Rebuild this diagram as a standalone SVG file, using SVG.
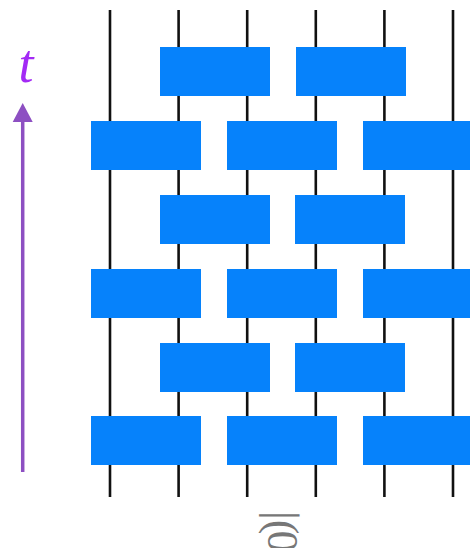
<svg xmlns="http://www.w3.org/2000/svg" width="470" height="548" viewBox="0 0 470 548">
<style>
.wire{stroke:#111;stroke-width:2.6;fill:none}
.gate{fill:#0682fb}
.axis{stroke:#8d4fc2;stroke-width:3.5}
</style>
<rect width="470" height="548" fill="#fff"/>
<g id="wires">
<line class="wire" x1="110" y1="10" x2="110" y2="497"/>
<line class="wire" x1="178.6" y1="10" x2="178.6" y2="497"/>
<line class="wire" x1="247.2" y1="10" x2="247.2" y2="497"/>
<line class="wire" x1="315.8" y1="10" x2="315.8" y2="497"/>
<line class="wire" x1="384.4" y1="10" x2="384.4" y2="497"/>
<line class="wire" x1="453" y1="10" x2="453" y2="497"/>
</g>
<g id="gates">
<rect class="gate" x="160" y="47" width="110" height="49"/>
<rect class="gate" x="296" y="47" width="110" height="49"/>
<rect class="gate" x="91" y="121" width="110" height="49"/>
<rect class="gate" x="227" y="121" width="110" height="49"/>
<rect class="gate" x="363" y="121" width="110" height="49"/>
<rect class="gate" x="160" y="195" width="110" height="49"/>
<rect class="gate" x="295" y="195" width="110" height="49"/>
<rect class="gate" x="91" y="269" width="110" height="49"/>
<rect class="gate" x="227" y="269" width="110" height="49"/>
<rect class="gate" x="363" y="269" width="110" height="49"/>
<rect class="gate" x="160" y="343" width="110" height="49"/>
<rect class="gate" x="295" y="343" width="110" height="49"/>
<rect class="gate" x="91" y="416" width="110" height="49"/>
<rect class="gate" x="227" y="416" width="110" height="49"/>
<rect class="gate" x="363" y="416" width="110" height="49"/>
</g>
<g id="time-axis">
<line class="axis" x1="22.7" y1="472" x2="22.7" y2="118"/>
<polygon points="22.7,103 32.7,122 12.7,122" fill="#8d4fc2"/>
<text x="26" y="82" font-family="Liberation Serif, serif" font-style="italic" font-size="54" fill="#a32af5" text-anchor="middle">t</text>
</g>
<g id="state-label">
<text transform="translate(268,511) rotate(90)" font-family="Liberation Serif, serif" font-size="44" fill="#777">|(<tspan dx="-4">0)⟩</tspan></text>
</g>
</svg>
